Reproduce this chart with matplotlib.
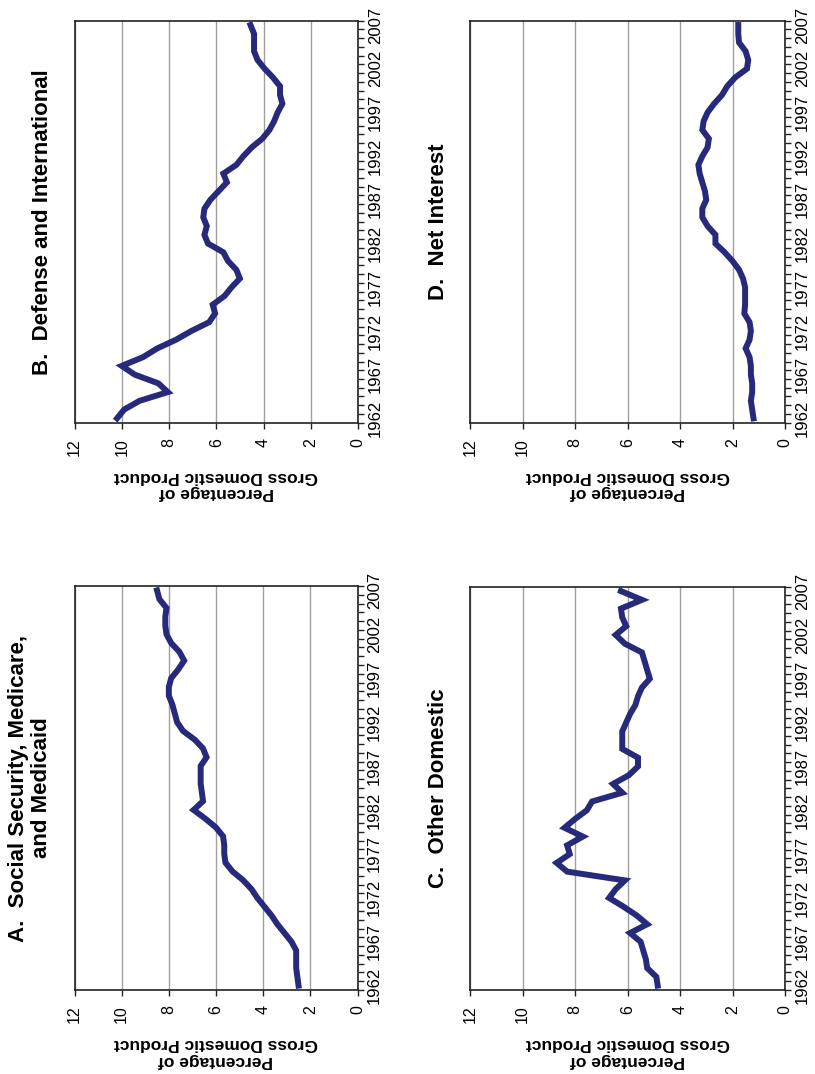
import numpy as np
import matplotlib.pyplot as plt

# Federal spending by category, percentage of GDP, fiscal years 1962-2007
years = list(range(1962, 2008))

social_security = [2.5, 2.55, 2.6, 2.6, 2.6, 2.8, 3.1, 3.4, 3.65, 3.95,
                   4.25, 4.5, 4.85, 5.3, 5.6, 5.65, 5.65, 5.7, 6.0, 6.45,
                   6.95, 6.55, 6.6, 6.65, 6.65, 6.65, 6.4, 6.55, 6.9, 7.4,
                   7.65, 7.75, 7.85, 8.0, 8.0, 7.9, 7.6, 7.35, 7.55, 7.9,
                   8.1, 8.15, 8.15, 8.1, 8.4, 8.5]

defense = [10.2, 9.9, 9.25, 8.05, 8.45, 9.45, 10.0, 9.1, 8.5, 7.7,
           7.05, 6.3, 6.05, 6.15, 5.65, 5.35, 5.0, 5.15, 5.5, 5.7,
           6.35, 6.5, 6.4, 6.55, 6.5, 6.25, 5.9, 5.55, 5.7, 5.15,
           4.85, 4.5, 4.05, 3.75, 3.55, 3.4, 3.2, 3.3, 3.3, 3.6,
           3.95, 4.25, 4.4, 4.4, 4.4, 4.55]

other_domestic = [4.85, 4.9, 5.25, 5.3, 5.4, 5.5, 5.9, 5.25, 5.65, 6.15,
                  6.7, 6.45, 6.1, 8.3, 8.7, 8.2, 8.3, 7.7, 8.4, 8.0,
                  7.55, 7.35, 6.2, 6.55, 5.95, 5.6, 5.6, 6.2, 6.2, 6.2,
                  6.05, 5.9, 5.7, 5.6, 5.45, 5.15, 5.25, 5.35, 5.45, 6.1,
                  6.45, 6.05, 6.2, 6.25, 5.45, 6.25]

net_interest = [1.2, 1.25, 1.3, 1.25, 1.25, 1.3, 1.3, 1.35, 1.5, 1.35,
                1.3, 1.35, 1.55, 1.52, 1.52, 1.52, 1.6, 1.75, 2.0, 2.3,
                2.65, 2.65, 2.95, 3.15, 3.15, 3.0, 3.05, 3.15, 3.25, 3.3,
                3.15, 2.95, 2.9, 3.15, 3.1, 2.95, 2.7, 2.4, 2.2, 1.9,
                1.45, 1.4, 1.5, 1.75, 1.78, 1.78]

value_ticks = [0, 2, 4, 6, 8, 10, 12]
year_labels = years[::5]

W, H = 815, 1074
LINE = '#272A7B'

plt.rcParams['font.family'] = ['Liberation Sans', 'DejaVu Sans']
fig = plt.figure(figsize=(W / 100, H / 100), dpi=100)


def add_panel(values, title, box, title_x):
    left, top, right, bottom = box
    ax = fig.add_axes([left / W, 1 - bottom / H, (right - left) / W, (bottom - top) / H])
    ax.plot(values, years, color=LINE, lw=4.3, solid_joinstyle='miter', zorder=3)
    ax.set_xlim(12, 0)
    ax.set_ylim(1961.5, 2007.5)

    ax.set_xticks(value_ticks)
    ax.set_xticklabels([str(v) for v in value_ticks], rotation=90, fontsize=11.5)
    ax.tick_params(axis='x', direction='out', length=4, width=1, pad=7, color='#222222')
    ax.grid(axis='x', color='#a0a0a0', lw=1.0, zorder=1)

    ax.yaxis.tick_right()
    ax.set_yticks(year_labels)
    ax.set_yticklabels([str(y) for y in year_labels], fontsize=12)
    for lbl in ax.get_yticklabels():
        lbl.set_rotation(90)
        lbl.set_va('center')
        lbl.set_ha('left')
    ax.set_yticks(np.arange(1961.5, 2008, 1), minor=True)
    ax.tick_params(axis='y', which='major', length=0, pad=7)
    ax.tick_params(axis='y', which='minor', direction='out', length=4, width=1,
                   color='#222222')

    for sp in ax.spines.values():
        sp.set_color('#222222')
        sp.set_linewidth(1.2)

    cy = (top + bottom) / 2
    fig.text(title_x / W, 1 - cy / H, title, rotation=90, ha='center', va='center',
             fontsize=16, fontweight='bold', multialignment='center', linespacing=1.1)
    cx = (left + right) / 2
    fig.text(cx / W, 1 - (bottom + 62) / H, "Percentage of\nGross Domestic Product",
             rotation=180, ha='center', va='center', fontsize=12.5,
             fontweight='bold', linespacing=1.1)
    return ax


add_panel(defense, "B.  Defense and International", (74.5, 20.7, 358, 422.7), 43)
add_panel(net_interest, "D.  Net Interest", (470, 20.7, 785, 422.7), 439)
add_panel(social_security, "A.  Social Security, Medicare,\nand Medicaid",
          (74.5, 586, 357.5, 990), 30)
add_panel(other_domestic, "C.  Other Domestic", (470, 586.7, 785, 990), 438)

fig.savefig('out.png', dpi=100)
